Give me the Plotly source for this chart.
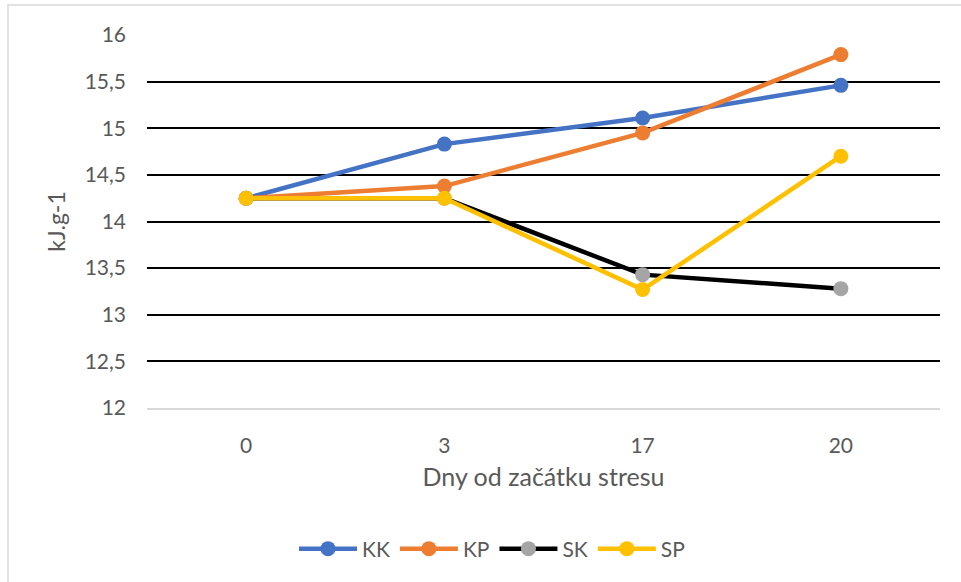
import plotly.graph_objects as go

# Days since the start of stress (category axis)
days = ["0", "3", "17", "20"]

# Energy content (kJ.g-1) per treatment group
kk = [14.25, 14.83, 15.11, 15.46]
kp = [14.25, 14.38, 14.95, 15.79]
sk = [14.25, 14.25, 13.43, 13.28]
sp = [14.25, 14.25, 13.27, 14.70]

y_ticks = [12, 12.5, 13, 13.5, 14, 14.5, 15, 15.5, 16]
y_tick_labels = ["12", "12,5", "13", "13,5", "14", "14,5", "15", "15,5", "16"]

series = [
    ("KK", kk, "#4472C4", "#4472C4"),
    ("KP", kp, "#ED7D31", "#ED7D31"),
    ("SK", sk, "#000000", "#A5A5A5"),
    ("SP", sp, "#FFC000", "#FFC000"),
]

FONT = "Lato, Calibri, sans-serif"
TXT = "#595959"

fig = go.Figure()
for name, vals, line_col, marker_col in series:
    fig.add_trace(go.Scatter(
        x=days, y=vals, name=name, mode="lines+markers",
        line=dict(color=line_col, width=4.5),
        marker=dict(color=marker_col, size=15, line=dict(width=0)),
    ))

W, H = 961, 582
L, R, T, B = 147, 21, 35, 174
pw, ph = W - L - R, H - T - B


def px_x(x):
    return (x - L) / pw


def px_y(y):
    return (H - B - y) / ph


fig.update_layout(
    width=W, height=H,
    margin=dict(l=L, r=R, t=T, b=B),
    paper_bgcolor="white", plot_bgcolor="white",
    font=dict(family=FONT, size=21, color=TXT),
    showlegend=True,
    legend=dict(
        orientation="h", x=px_x(492), y=px_y(549),
        xanchor="center", yanchor="middle",
        font=dict(family=FONT, size=21, color=TXT),
        itemwidth=58, tracegroupgap=0,
    ),
    xaxis=dict(
        type="category", range=[-0.5, 3.5],
        showgrid=False, zeroline=False,
        showline=True, linecolor="#D9D9D9", linewidth=2,
        ticks="", ticklabelstandoff=18,
        tickfont=dict(family=FONT, size=21, color=TXT),
        title=dict(text="Dny od začátku stresu", standoff=12,
                   font=dict(family=FONT, size=25, color=TXT)),
    ),
    yaxis=dict(
        range=[12, 16], tickvals=y_ticks, ticktext=y_tick_labels,
        showgrid=True, gridcolor="#000000", gridwidth=1.6,
        zeroline=False, showline=False, ticks="",
        ticklabelstandoff=20,
        tickfont=dict(family=FONT, size=21, color=TXT),
        title=dict(text="kJ.g-1", standoff=12,
                   font=dict(family=FONT, size=23, color=TXT)),
    ),
    shapes=[
        dict(type="rect", xref="paper", yref="paper",
             x0=px_x(8), x1=px_x(975), y0=px_y(595), y1=px_y(5),
             line=dict(color="#D9D9D9", width=1.5), layer="below"),
    ],
)

fig.write_html("out.html")
